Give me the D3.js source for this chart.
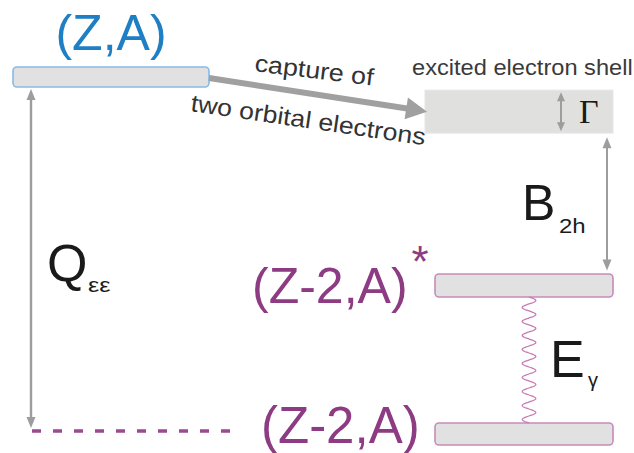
<!DOCTYPE html>
<html>
<head>
<meta charset="utf-8">
<script src="https://cdn.jsdelivr.net/npm/d3@7/dist/d3.min.js"></script>
<style>
  body { margin: 0; background: #fff; }
  svg { display: block; }
</style>
</head>
<body>
<svg id="chart" width="634" height="453"></svg>
<script>
// Energy levels of double electron capture (relative energy, arbitrary units)
const levelIds = ["parent", "shell", "excited", "ground"];
const levelLabels = ["(Z,A)", "excited electron shell", "(Z-2,A)", "(Z-2,A)"];
const levelEnergies = [100, 90.3, 41.6, 0];

// Process and quantity labels
const captureLines = ["capture of", "two orbital electrons"];
const quantitySymbols = ["Q", "B", "E", "Γ"];
const quantitySubscripts = ["εε", "2h", "γ", ""];

const svg = d3.select("#chart");

const C = {
  blue: "#1e7fc5",
  blueEdge: "#86bbe6",
  purple: "#8d3b82",
  purpleEdge: "#c98bbb",
  dash: "#9b4a8f",
  grey: "#9d9d9d",
  fill: "#e1e1e1",
  text: "#333333",
  dark: "#1a1a1a"
};
const sans = "'Liberation Sans', Arial, sans-serif";

const y = d3.scaleLinear().domain([0, 100]).range([434, 77]);
const E = Object.fromEntries(levelIds.map((id, i) => [id, levelEnergies[i]]));

// Horizontal layout of the two columns
const leftCol = { x0: 13, x1: 209 };
const rightCol = { x0: 435, x1: 613 };
const shellCol = { x0: 425, x1: 613 };

// Level bars
const bars = [
  { id: "parent", x0: leftCol.x0, x1: leftCol.x1, h: 20, stroke: C.blueEdge },
  { id: "excited", x0: rightCol.x0, x1: rightCol.x1, h: 23, stroke: C.purpleEdge },
  { id: "ground", x0: rightCol.x0, x1: rightCol.x1, h: 22, stroke: C.purpleEdge }
];
svg.selectAll("rect.level").data(bars).join("rect")
  .attr("class", "level")
  .attr("x", d => d.x0)
  .attr("y", d => y(E[d.id]) - d.h / 2)
  .attr("width", d => d.x1 - d.x0)
  .attr("height", d => d.h)
  .attr("rx", 4)
  .attr("fill", C.fill)
  .attr("stroke", d => d.stroke)
  .attr("stroke-width", 1.6);

// Excited electron shell (broad box of width Γ)
const shellH = 43;
const shellTop = y(E.shell) - shellH / 2, shellBot = y(E.shell) + shellH / 2;
svg.append("rect")
  .attr("x", shellCol.x0).attr("y", shellTop)
  .attr("width", shellCol.x1 - shellCol.x0).attr("height", shellH)
  .attr("fill", "#e0e0df").attr("stroke", "#e6e6e6");

// Arrow helper: line with triangular heads
function arrow(g, x1, y1, x2, y2, opt) {
  const { width = 2, headL = 10, headW = 9, start = false, end = true, color = C.grey } = opt || {};
  const ang = Math.atan2(y2 - y1, x2 - x1);
  const ux = Math.cos(ang), uy = Math.sin(ang);
  const sx = start ? x1 + ux * headL * 0.8 : x1, sy = start ? y1 + uy * headL * 0.8 : y1;
  const ex = end ? x2 - ux * headL * 0.8 : x2, ey = end ? y2 - uy * headL * 0.8 : y2;
  g.append("line").attr("x1", sx).attr("y1", sy).attr("x2", ex).attr("y2", ey)
    .attr("stroke", color).attr("stroke-width", width);
  const head = (tx, ty, dx, dy) => {
    const bx = tx - dx * headL, by = ty - dy * headL;
    const px = -dy * headW / 2, py = dx * headW / 2;
    g.append("path")
      .attr("d", `M${tx},${ty}L${bx + px},${by + py}L${bx - px},${by - py}Z`)
      .attr("fill", color);
  };
  if (end) head(x2, y2, ux, uy);
  if (start) head(x1, y1, -ux, -uy);
}

const g = svg.append("g");

// Capture arrow from parent level to the excited shell
arrow(g, leftCol.x1, y(E.parent) + 1, 427, y(E.shell), { width: 6, headL: 21, headW: 22, color: "#a0a0a0" });

// Q_εε: parent to ground
arrow(g, 31, y(E.parent) + 12, 31, y(E.ground) - 6, { width: 2.4, headL: 11, headW: 9, start: true });

// Dashed continuation of the ground level under the parent
svg.append("line")
  .attr("x1", 32).attr("x2", 232)
  .attr("y1", y(E.ground) - 3).attr("y2", y(E.ground) - 3)
  .attr("stroke", C.dash).attr("stroke-width", 3.5)
  .attr("stroke-dasharray", "9,12");

// B_2h: shell to excited nucleus
arrow(g, 607, shellBot + 4, 607, y(E.excited) - 15, { width: 2, headL: 11, headW: 9, start: true });

// Γ: width of the shell
arrow(g, 561, shellTop + 2, 561, shellBot - 2, { width: 2, headL: 9, headW: 8, start: true });

// E_γ: photon (wavy line) between excited and ground levels
const wy0 = y(E.excited) + 11.5, wy1 = y(E.ground) - 11;
const cycles = 9, amp = 7, wx = 529;
const wave = d3.range(0, cycles * 16 + 1).map(i => {
  const t = i / (cycles * 16);
  return [wx + amp * Math.sin(t * cycles * 2 * Math.PI), wy0 + t * (wy1 - wy0)];
});
svg.append("path")
  .attr("d", d3.line().curve(d3.curveBasis)(wave))
  .attr("fill", "none").attr("stroke", "#c77ab6").attr("stroke-width", 1.3);

// Text helper: placed via transform, optionally rotated and widened
function label(txt, x, yy, size, color, rot = 0, sx = 1) {
  return svg.append("text").text(txt)
    .attr("transform", `translate(${x},${yy}) rotate(${rot}) scale(${sx},1)`)
    .attr("font-family", sans).attr("font-size", size).attr("fill", color);
}

// Level labels
label(levelLabels[0], 111, 50, 50, C.blue).attr("text-anchor", "middle");
label(levelLabels[1], 412, 75, 22, "#3a3a3a", 0, 1.075);

const ex = label("", 252, 303, 50, C.purple);
ex.append("tspan").text(levelLabels[2]);
ex.append("tspan").text("*").attr("font-size", 44).attr("dx", 4).attr("dy", -26);

label(levelLabels[3], 261, 443, 51, C.purple);

// Capture description along the arrow
label(captureLines[0], 254, 71, 24, C.text, 7, 1.12);
label(captureLines[1], 190, 111, 24, C.text, 8.3, 1.11);

// Quantity symbols with subscripts
const symbols = [
  { x: 47, y: 281, size: 52, sx: 88, sy: 292, sub: 21, stretch: 1.2 },
  { x: 522, y: 220, size: 50, sx: 559, sy: 233, sub: 20, stretch: 1.2 },
  { x: 550, y: 377, size: 52, sx: 588, sy: 387, sub: 20, stretch: 1 }
];
symbols.forEach((s, i) => {
  label(quantitySymbols[i], s.x, s.y, s.size, C.dark);
  label(quantitySubscripts[i], s.sx, s.sy, s.sub, C.dark, 0, s.stretch);
});

svg.append("text").text(quantitySymbols[3])
  .attr("x", 579).attr("y", 123)
  .attr("font-family", "'Liberation Serif', 'Times New Roman', serif")
  .attr("font-size", 34).attr("fill", C.dark);
</script>
</body>
</html>
